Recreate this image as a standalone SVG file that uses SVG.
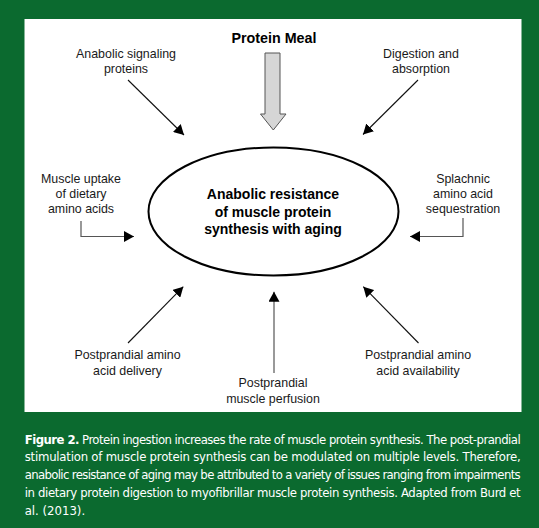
<svg xmlns="http://www.w3.org/2000/svg" width="539" height="528" viewBox="0 0 539 528">
<style>
.lbl{font-family:"Liberation Sans",Arial,sans-serif;font-size:12.4px;fill:#1a1a1a;text-anchor:middle}
.ctr{font-family:"Liberation Sans",Arial,sans-serif;font-size:14px;font-weight:bold;fill:#000;text-anchor:middle}
.cap{font-family:"Liberation Sans Narrow","DejaVu Sans Condensed","Liberation Sans",sans-serif;font-size:13px;fill:#fff}
.ln{stroke:#111;stroke-width:1.1;fill:none}
.el{stroke:#555;stroke-width:1.2;fill:none}
</style>
<defs>
<marker id="ah" viewBox="0 0 10 11" refX="10" refY="5.5" markerWidth="10" markerHeight="11" markerUnits="userSpaceOnUse" orient="auto">
<path d="M0,0 L10,5.5 L0,11 z" fill="#000"/>
</marker>
</defs>
<rect x="0" y="0" width="539" height="528" fill="#0b6a2f"/>
<rect x="24.5" y="19" width="497" height="393" fill="#fff"/>

<g id="protein-meal">
<text class="ctr" x="274" y="42.5" style="font-size:14.3px">Protein Meal</text>
<polygon points="265,53 280,53 280,114 286,114 273.3,130 260.5,114 265,114" fill="#d6d6d6" stroke="#555" stroke-width="1"/>
</g>

<g id="center">
<ellipse cx="273.5" cy="211.5" rx="125" ry="64" fill="#fff" stroke="#000" stroke-width="2"/>
<text class="ctr" x="273" y="199.3">Anabolic resistance</text>
<text class="ctr" x="273" y="216.5">of muscle protein</text>
<text class="ctr" x="273" y="233.5">synthesis with aging</text>
</g>

<g id="anabolic-signaling">
<text class="lbl" x="126" y="57.5">Anabolic signaling</text>
<text class="lbl" x="126" y="72.5">proteins</text>
</g>
<g id="digestion">
<text class="lbl" x="421" y="57.5">Digestion and</text>
<text class="lbl" x="421" y="72.5">absorption</text>
</g>
<g id="muscle-uptake">
<text class="lbl" x="81" y="182.7">Muscle uptake</text>
<text class="lbl" x="81" y="197.6">of dietary</text>
<text class="lbl" x="81" y="212.5">amino acids</text>
</g>
<g id="splachnic">
<text class="lbl" x="463" y="183">Splachnic</text>
<text class="lbl" x="463" y="198">amino acid</text>
<text class="lbl" x="463" y="213">sequestration</text>
</g>
<g id="aa-delivery">
<text class="lbl" x="127.5" y="359">Postprandial amino</text>
<text class="lbl" x="127.5" y="374.5">acid delivery</text>
</g>
<g id="perfusion">
<text class="lbl" x="273" y="387">Postprandial</text>
<text class="lbl" x="273" y="402.5">muscle perfusion</text>
</g>
<g id="aa-availability">
<text class="lbl" x="418" y="359">Postprandial amino</text>
<text class="lbl" x="418" y="374.5">acid availability</text>
</g>

<g id="connectors">
<line class="ln" x1="128" y1="80" x2="184" y2="135" marker-end="url(#ah)"/>
<line class="ln" x1="418" y1="80" x2="363" y2="134.5" marker-end="url(#ah)"/>
<path class="el" d="M81,221 V236.5 H134" marker-end="url(#ah)"/>
<path class="el" d="M463,218 V236.5 H410" marker-end="url(#ah)"/>
<line class="ln" x1="128" y1="343" x2="183.3" y2="286.7" marker-end="url(#ah)"/>
<line class="el" x1="274" y1="373" x2="274" y2="291.7" marker-end="url(#ah)"/>
<line class="ln" x1="418.5" y1="343" x2="363.3" y2="286.7" marker-end="url(#ah)"/>
</g>

<g id="caption">
<text class="cap" x="24.7" y="443.5" textLength="496" lengthAdjust="spacing"><tspan font-weight="bold">Figure 2.</tspan> Protein ingestion increases the rate of muscle protein synthesis. The post-prandial</text>
<text class="cap" x="24.7" y="461.3" textLength="496" lengthAdjust="spacing">stimulation of muscle protein synthesis can be modulated on multiple levels. Therefore,</text>
<text class="cap" x="24.7" y="479.1" textLength="496" lengthAdjust="spacing">anabolic resistance of aging may be attributed to a variety of issues ranging from impairments</text>
<text class="cap" x="24.7" y="496.9" textLength="496" lengthAdjust="spacing">in dietary protein digestion to myofibrillar muscle protein synthesis. Adapted from Burd et</text>
<text class="cap" x="24.7" y="514.7">al. (2013).</text>
</g>
</svg>
